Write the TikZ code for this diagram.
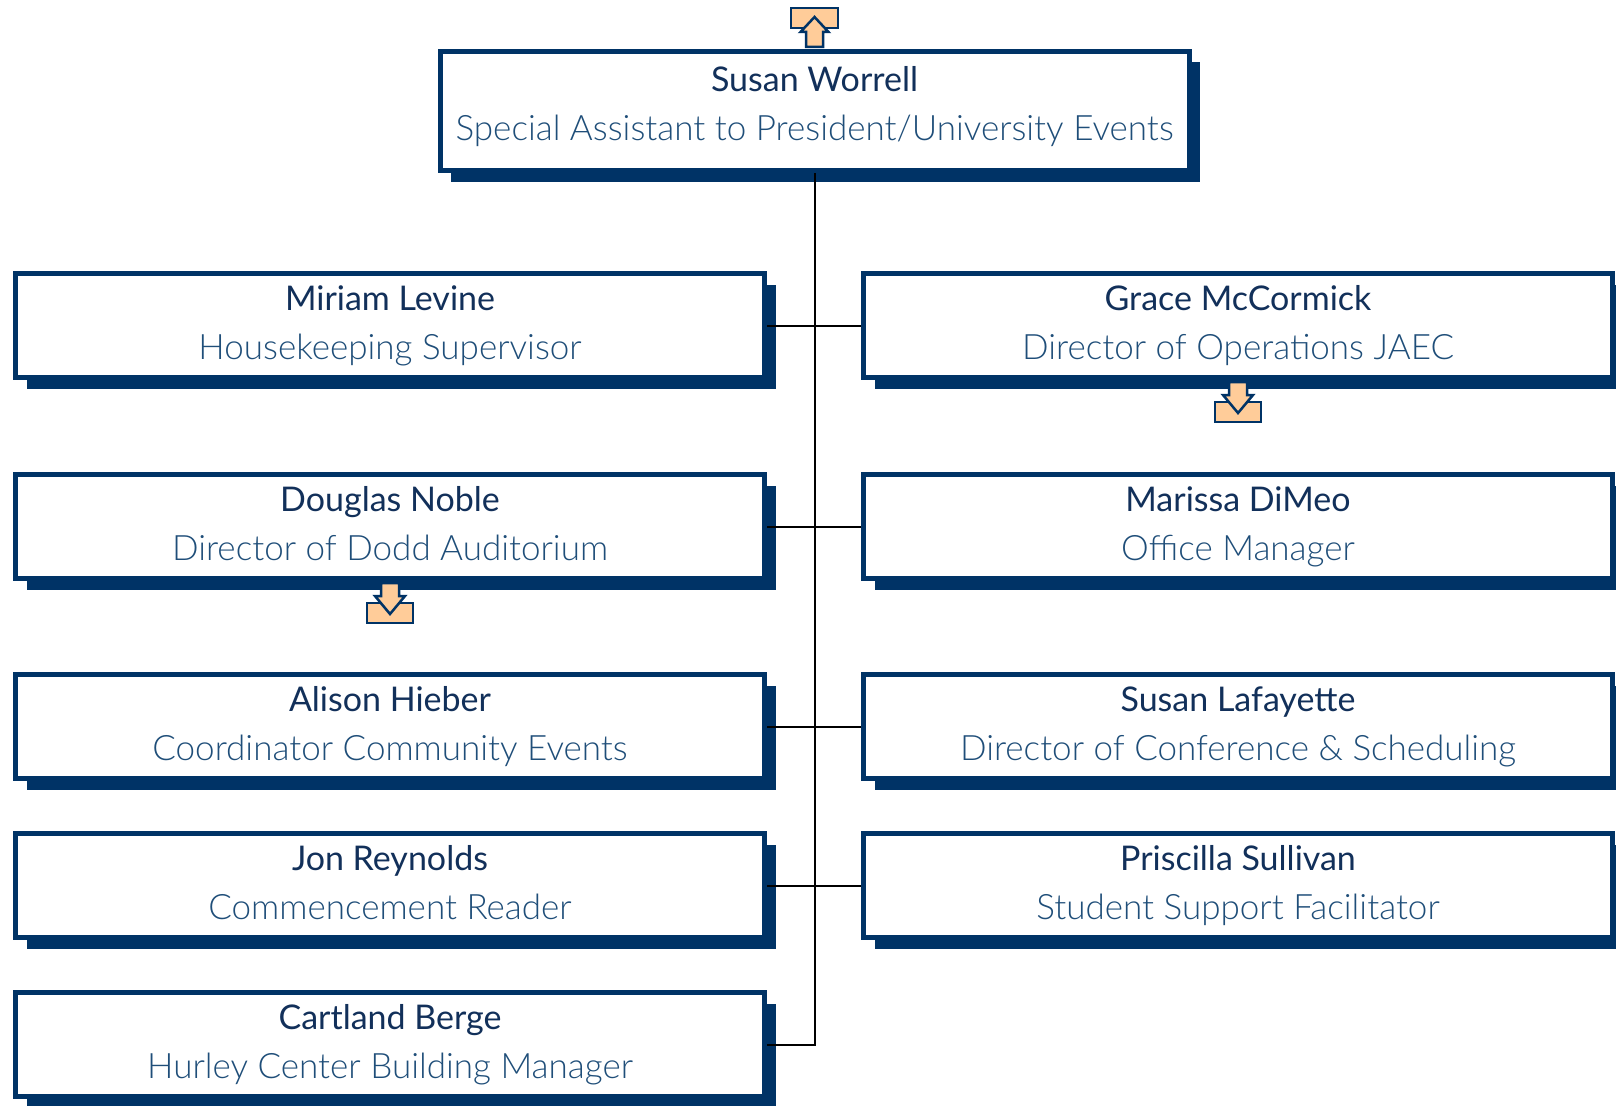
\documentclass[tikz,border=0pt]{standalone}
\usepackage{fontspec}
\setmainfont{Lato}
\newfontfamily\rolefont{Lato Light}
\usetikzlibrary{shadows}
\definecolor{ChartNavy}{HTML}{003366}
\definecolor{ChartName}{HTML}{12305A}
\definecolor{ChartRole}{HTML}{1F4E79}
\definecolor{ChartTray}{HTML}{FFCC99}
\tikzset{
  staffbox/.style={draw=ChartNavy, line width=5pt, fill=white, inner sep=0pt,
    minimum width=749pt, minimum height=104pt, align=center, text=ChartName,
    font=\fontsize{34pt}{49pt}\selectfont,
    drop shadow={shadow xshift=11pt, shadow yshift=-11pt, fill=ChartNavy, opacity=1}},
  link/.style={black, line width=2pt},
  tray/.style={draw=ChartNavy, line width=2.5pt, fill=ChartTray, line join=miter},
  uptray/.pic={
    \filldraw[tray] (-23.5,-21) rectangle (23.5,-41);
    \filldraw[tray] (-8.5,-2) -- (-8.5,-17) -- (-14,-17) -- (0,-32) -- (14,-17)
      -- (8.5,-17) -- (8.5,-2) -- cycle;
  },
  downtray/.pic={
    \filldraw[tray] (-23,22) rectangle (23,42);
    \filldraw[tray] (-9,2) -- (-9,15) -- (-15,15) -- (0,33) -- (15,15)
      -- (9,15) -- (9,2) -- cycle;
  },
}
\newcommand{\staff}[2]{\strut#1\\{\rolefont\fontsize{35pt}{49pt}\selectfont\color{ChartRole}\strut#2}}
\begin{document}
\begin{tikzpicture}[x=1pt,y=-1pt]
  \useasboundingbox (0,0) rectangle (1616,1105);
  % head of the unit
  \node[staffbox, minimum height=119pt, text depth=24pt] (boss) at (814.5,111)
    {\staff{Susan Worrell}{Special Assistant to President/University Events}};
  % left column
  \foreach \n/\y/\who/\role in {1/325.5/{Miriam Levine}/{Housekeeping Supervisor},
      2/526.5/{Douglas Noble}/{Director of Dodd Auditorium},
      3/726.5/{Alison Hieber}/{Coordinator Community Events},
      4/885.5/{Jon Reynolds}/{Commencement Reader},
      5/1044.5/{Cartland Berge}/{Hurley Center Building Manager}} {
    \node[staffbox] (l\n) at (390,\y) {\staff{\who}{\role}};
  }
  % right column
  \foreach \n/\y/\who/\role in {1/325.5/{Grace McCormick}/{Director of Operations JAEC},
      2/526.5/{Marissa DiMeo}/{Office Manager},
      3/726.5/{Susan Lafayette}/{Director of Conference \& Scheduling},
      4/885.5/{Priscilla Sullivan}/{Student Support Facilitator}} {
    \node[staffbox] (r\n) at (1238,\y) {\staff{\who}{\role}};
  }
  % connectors
  \draw[link] (boss.south) -- (boss.south |- l5.east) -- (l5.east);
  \foreach \n in {1,2,3,4} {
    \draw[link] (l\n.east) -- (r\n.west);
  }
  % trays
  \pic at (boss.north) {uptray};
  \pic at (r1.south) {downtray};
  \pic at (l2.south) {downtray};
\end{tikzpicture}
\end{document}
